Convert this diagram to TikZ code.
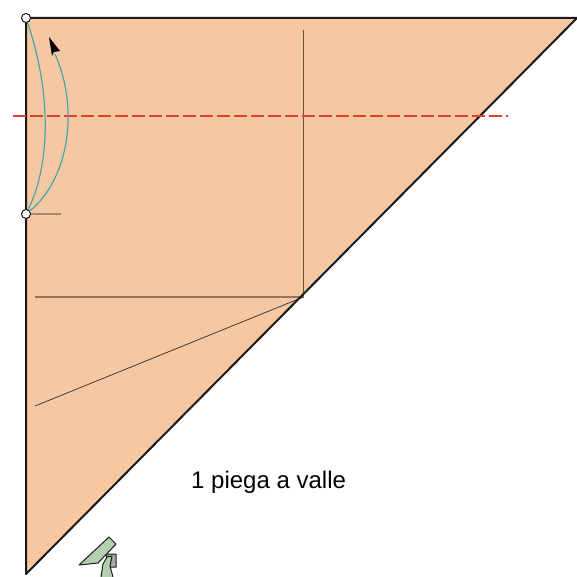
\documentclass[tikz,border=0pt]{standalone}
\usepackage{fontspec}
\setmainfont{Liberation Sans}
\usepackage{tikz}
\usetikzlibrary{arrows.meta,positioning,calc}
\definecolor{paper}{RGB}{246,200,162}
\definecolor{ink}{RGB}{25,25,25}
\definecolor{crease}{RGB}{150,115,95}
\definecolor{foldline}{RGB}{226,62,44}
\definecolor{teal}{RGB}{70,165,170}
\definecolor{pale}{RGB}{180,207,175}
\tikzset{
  edge/.style={draw=ink,line width=2pt},
  soft crease/.style={draw=crease,line width=1.5pt},
  fold/.style={draw=foldline,line width=2pt,dash pattern=on 13pt off 4pt},
  swing/.style={draw=teal,line width=1.2pt},
  pin/.style={circle,draw=ink,fill=white,line width=1pt,inner sep=0pt,minimum size=9pt},
  hand/.style={draw=ink,fill=pale,line width=1pt,line join=round},
}
\begin{document}
\begin{tikzpicture}[x=1pt,y=-1pt]
  \useasboundingbox (0,0) rectangle (576,577);
  \coordinate (tl) at (26,18);
  \coordinate (tr) at (577,18);
  \coordinate (bl) at (26,574);
  \coordinate (mid) at (303.5,297);
  \fill[paper] (tl)--(tr)--(bl)--cycle;
  % creases
  \coordinate (vtop) at (303.5,30);
  \coordinate (hleft) at (35,297);
  \coordinate (slant) at (35,406);
  \coordinate (tick) at (61,214);
  \draw[draw=crease!70!black,line width=1pt] (vtop)--(mid);
  \draw[soft crease] (hleft)--(mid);
  \draw[draw=ink!85,line width=0.8pt] (slant)--(mid);
  % outline
  \draw[edge,line join=round] (bl)--(tl)--(tr)--cycle;
  \draw[soft crease,draw=crease!85] (26,214)--(tick);
  % fold
  \coordinate (fa) at (13,116);
  \coordinate (fb) at (508,116);
  \draw[fold] (fa)--(fb);
  \node[pin] (top) at (26,18){};
  \node[pin] (low) at (26,214){};
  \coordinate (tip) at (55,54);
  \draw[swing] (top) .. controls (52,95) and (50,165) .. (low);
  \draw[swing] (low) .. controls (68,180) and (80,110) .. (tip);
  \fill[black] (49,37)--(60,51)--(54,52)--(52,56)--cycle;
  % hand arrow
  \draw[hand,fill=pale!60!gray] (106,554)--(116,554)--(116,567)--(110,567)--cycle;
  \draw[hand] (101,577)--(103,564)--(107,557)--(112,556)--(110,566)--(113,577);
  \draw[hand] (79,565)--(109,537)--(116,544)--(98,563)--cycle;
  \node[font=\fontsize{24}{26}\selectfont,anchor=west,inner sep=0pt] (label) at (191,482){1 piega a valle};
\end{tikzpicture}
\end{document}
